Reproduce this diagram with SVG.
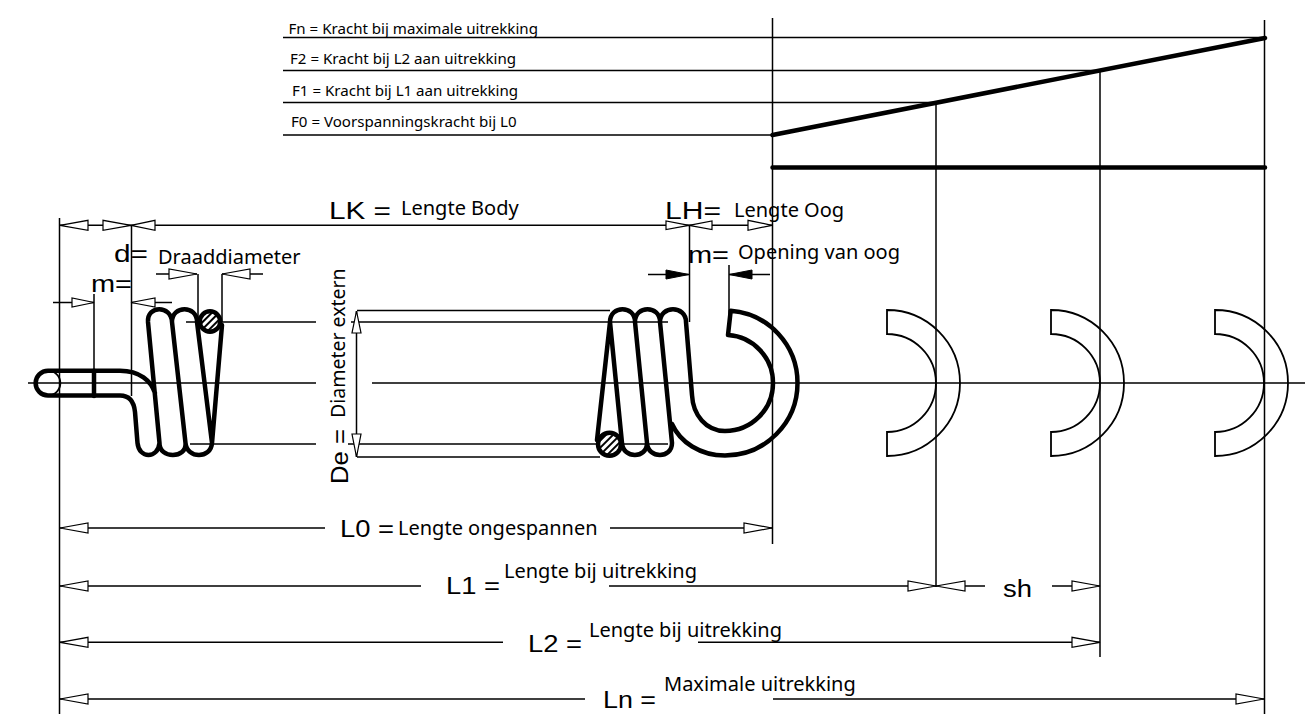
<svg xmlns="http://www.w3.org/2000/svg" width="1305" height="728" viewBox="0 0 1305 728">
<style>
.l{fill:none;stroke:#000;stroke-width:1.5}
.t{fill:none;stroke:#000;stroke-width:4.500;stroke-linejoin:round;stroke-linecap:round}
.s{fill:none;stroke:#000;stroke-width:1.800}
.a{fill:#fff;stroke:#000;stroke-width:1.200}
.f{fill:#000;stroke:#000;stroke-width:1}
.n{font-family:"Noto Sans","Open Sans",sans-serif;fill:#000;font-size:20px}
.m{font-size:15.100px}
.b{font-family:"Liberation Sans",Arial,sans-serif;fill:#000;font-size:23px}
</style>
<defs>
<pattern id="h" width="5" height="5" patternUnits="userSpaceOnUse" patternTransform="rotate(-45)"><rect width="5" height="5" fill="#fff"/><rect width="5" height="2" fill="#000"/></pattern>
</defs>
<g id="connectors">
<path class="l" d="M283 37.500H1264M283 70.500H1100M283 102.500H936M283 135H772"/>
<path class="l" d="M59.500 218V714M772.500 18V544M936 103V587M1100 70V657M1264.500 20V714M131.500 225V396M94 294V370M198 274V320M222 274V322M689.500 225V322M729 265V334"/>
<path class="l" d="M60 225.300H772M53 302.500H94M131 302.500H172M156 274H197M222 274H263M648 274.500H689M729 274.500H770"/>
<path class="l" d="M28 383H316M372 383H1305M186 322H316M351 322H668M357 310.500H610M190 444H316M348 444H668M357 457H600M356.500 311V457"/>
<path class="l" d="M60 528H325M610 528H772M60 586H421M609 586H936M936 586H985M1052 586H1100M60 642.300H503M698 642.300H1100M60 699H585M773 699H1264"/>
</g>
<g id="arrows">
<path class="a" d="M60 225.300L88 220.300V230.300ZM131 225.300L103 220.300V230.300ZM131 225.300L155 220.300V230.300ZM689 225.300L666 221V229.600ZM689 225.300L712 221V229.600ZM772 225.300L748 220.300V230.300Z"/>
<path class="a" d="M94 302.500L72 298V307ZM131 302.500L155 298V307ZM197 274L169 269V279ZM222 274L250 269V279Z"/>
<path class="f" d="M689 274.500L666 270V279ZM729 274.500L752 270V279Z"/>
<path class="a" d="M356.500 311L352 333H361ZM356.500 457L352 434H361Z"/>
<path class="a" d="M60 528L88 523V533ZM772 528L744 523V533ZM60 586L88 581V591ZM936 586L908 581V591ZM936 586L965 581V591ZM1100 586L1072 581V591ZM60 642.300L88 637.300V647.300ZM1100 642.300L1072 637.300V647.300ZM60 699L88 694V704ZM1264 699L1236 694V704Z"/>
</g>
<g id="force-graph">
<path class="t" d="M772.500 135L1265 38M772.500 167.500H1265"/>
</g>
<g id="spring-left">
<path class="t" d="M94 370.700V396"/>
<path d="M48 370.700A12.400 12.400 0 0 1 48 395.500" fill="none" stroke="#000" stroke-width="1.800"/>
<path class="t" d="M155 393C151 381 140 370.700 120 370.700H48A12.400 12.400 0 0 0 48 395.500H120C130 395.500 134 402 135 412L137.500 443C139 459 158 459 159.500 443L148 322C147 305 171 305 172 322L185.500 443C187 459 159 459 159.500 443M185.500 443C187 459 211 459 212 443L197 322C197 305 172 305 172 322M212 443L222 325"/>
<circle cx="210" cy="321.500" r="10.200" fill="url(#h)" stroke="#000" stroke-width="4.500"/>
</g>
<g id="spring-right">
<path class="t" d="M597 440L610 322C610 305 635 305 635 322L647 443C648 459 672 459 672 443L660 322C660 305 635 305 635 322M610 322L622 443C623 459 647 459 647 443M660 322C660 305 686 305 686 322L692 395C693 415 706 431 725 431A48 48 0 0 0 773 383A48 48 0 0 0 728 335.100L730.700 310.700A72.500 72.500 0 0 1 797.500 383A72.500 72.500 0 0 1 725 455.500C700 455.500 680 442 672 424"/>
<circle cx="609.500" cy="444.300" r="11.500" fill="url(#h)" stroke="#000" stroke-width="4.500"/>
</g>
<g id="eye-1"><path class="s" d="M887 334A49 49 0 0 1 887 432V456A73 73 0 0 0 887 310Z"/></g>
<g id="eye-2"><path class="s" d="M1051 334A49 49 0 0 1 1051 432V456A73 73 0 0 0 1051 310Z"/></g>
<g id="eye-3"><path class="s" d="M1215 334A49 49 0 0 1 1215 432V456A73 73 0 0 0 1215 310Z"/></g>
<g id="labels">
<text class="n m" x="288.500" y="34">Fn = Kracht bij maximale uitrekking</text>
<text class="n m" x="290" y="64">F2 = Kracht bij L2 aan uitrekking</text>
<text class="n m" x="292" y="96">F1 = Kracht bij L1 aan uitrekking</text>
<text class="n m" x="291" y="127">F0 = Voorspanningskracht bij L0</text>
<text class="b" x="329" y="219" textLength="62" lengthAdjust="spacingAndGlyphs">LK =</text>
<text class="n" x="401" y="214.500">Lengte Body</text>
<text class="b" x="665" y="219" textLength="56" lengthAdjust="spacingAndGlyphs">LH=</text>
<text class="n" x="734" y="217">Lengte Oog</text>
<text class="b" x="114" y="262" textLength="34" lengthAdjust="spacingAndGlyphs">d=</text>
<text class="n" x="158" y="264">Draaddiameter</text>
<text class="b" x="91" y="292" textLength="41" lengthAdjust="spacingAndGlyphs">m=</text>
<text class="b" x="688" y="263" textLength="41" lengthAdjust="spacingAndGlyphs">m=</text>
<text class="n" x="738" y="259">Opening van oog</text>
<text class="b" transform="translate(348 484) rotate(-90)" textLength="55" lengthAdjust="spacingAndGlyphs">De =</text>
<text class="n" transform="translate(345 418) rotate(-90)" style="font-size:19.500px">Diameter extern</text>
<text class="b" x="340" y="537" textLength="54" lengthAdjust="spacingAndGlyphs">L0 =</text>
<text class="n" x="398" y="534.500">Lengte ongespannen</text>
<text class="b" x="446" y="594" textLength="54" lengthAdjust="spacingAndGlyphs">L1 =</text>
<text class="n" x="504" y="578">Lengte bij uitrekking</text>
<text class="b" x="1003" y="597" textLength="29" lengthAdjust="spacingAndGlyphs">sh</text>
<text class="b" x="528" y="652" textLength="54" lengthAdjust="spacingAndGlyphs">L2 =</text>
<text class="n" x="589" y="636.500">Lengte bij uitrekking</text>
<text class="b" x="603" y="708" textLength="53" lengthAdjust="spacingAndGlyphs">Ln =</text>
<text class="n" x="664" y="691">Maximale uitrekking</text>
</g>
</svg>
